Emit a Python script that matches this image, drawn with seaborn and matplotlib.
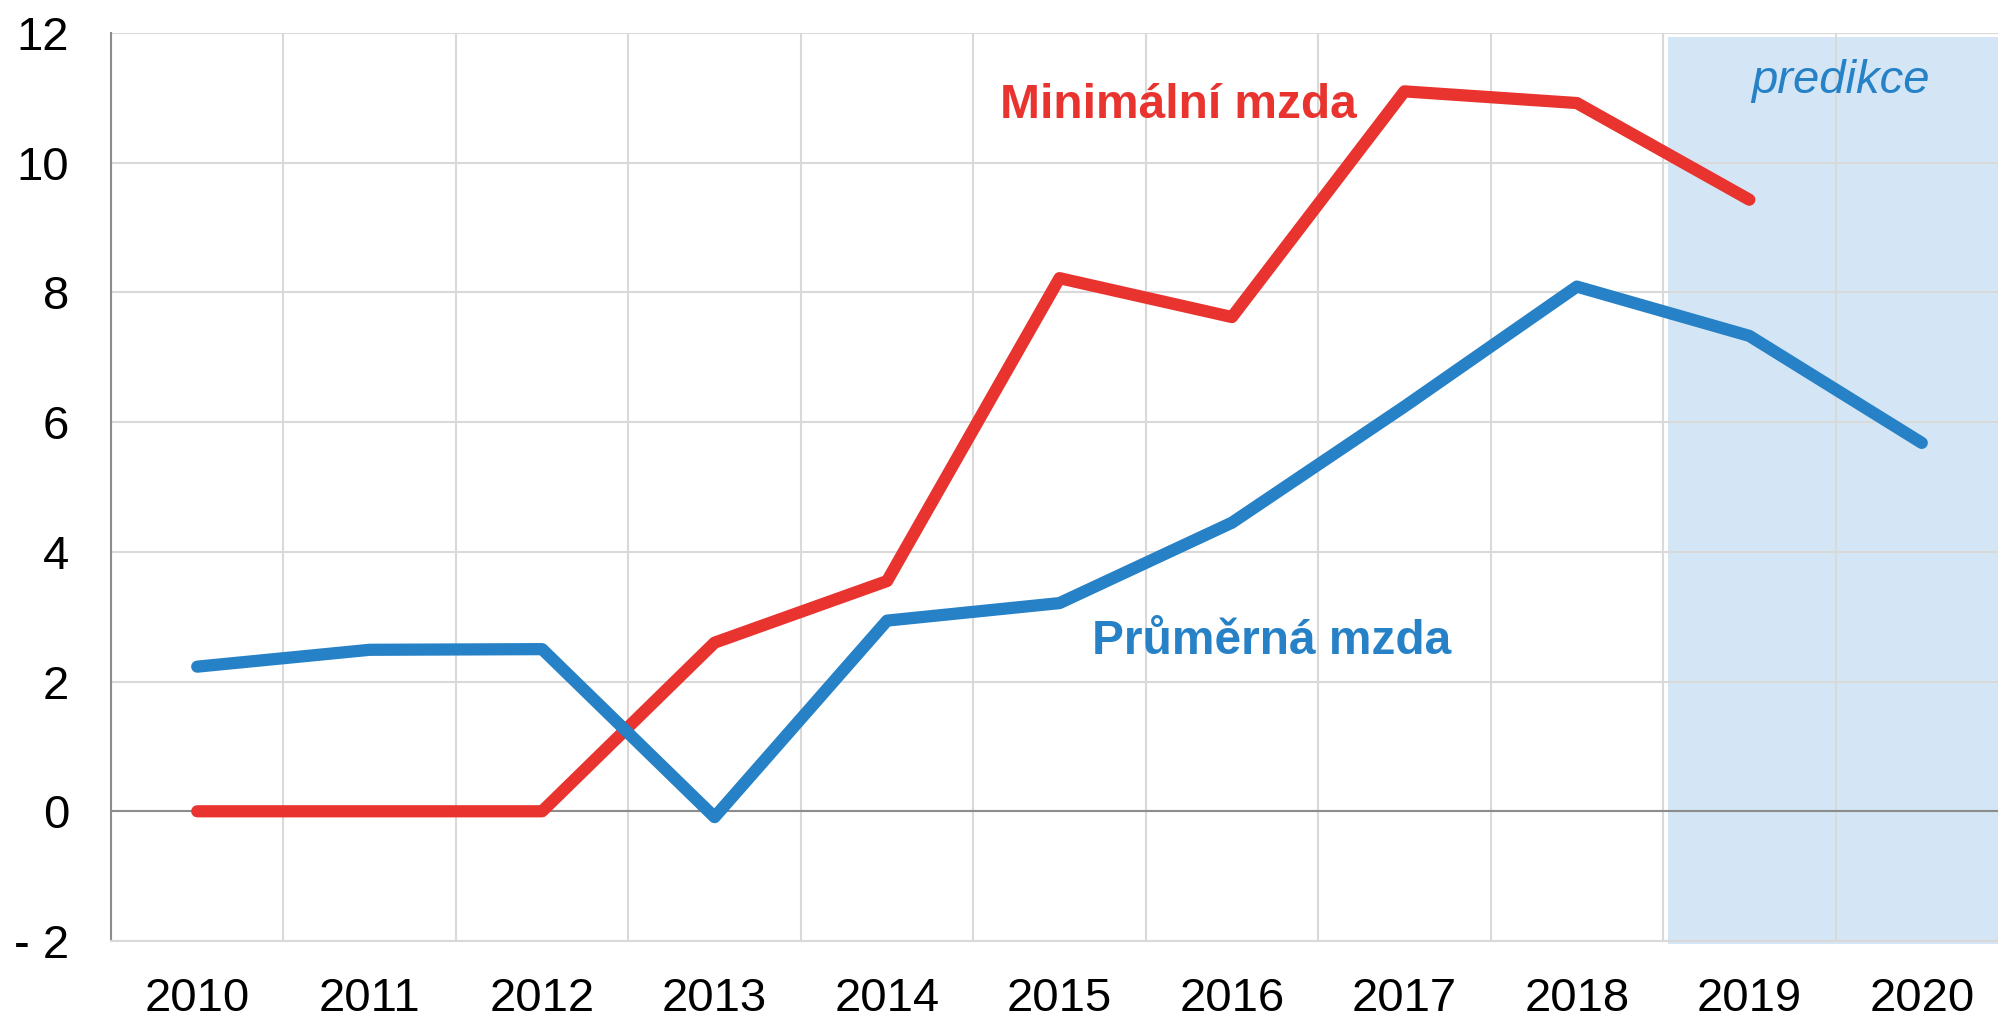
"""Growth of minimum vs. average wage, 2010-2020, with the forecast years shaded."""

import matplotlib

matplotlib.use("Agg")
import matplotlib.pyplot as plt
import numpy as np
import pandas as pd
import seaborn as sns
from matplotlib.patches import Rectangle
from matplotlib.ticker import FixedLocator

# --- data (year-on-year growth, %) ---
years = [2010, 2011, 2012, 2013, 2014, 2015, 2016, 2017, 2018, 2019, 2020]
avg_wage = [2.23, 2.49, 2.50, -0.09, 2.94, 3.21, 4.45, 6.24, 8.09, 7.33, 5.68]
min_wage_years = [2010, 2011, 2012, 2013, 2014, 2015, 2016, 2017, 2018, 2019]
min_wage = [0.0, 0.0, 0.0, 2.60, 3.55, 8.22, 7.62, 11.10, 10.92, 9.43]
y_ticks = [-2, 0, 2, 4, 6, 8, 10, 12]
y_tick_labels = ["- 2", "0", "2", "4", "6", "8", "10", "12"]

series_min = "Minimální mzda"
series_avg = "Průměrná mzda"
forecast_label = "predikce"
forecast_start = 2018.53

RED = "#E8332F"
BLUE = "#2681C6"
SHADE = "#D4E6F5"
GRID = "#D9D9D9"

df = pd.concat(
    [
        pd.DataFrame({"rok": min_wage_years, "růst": min_wage, "řada": series_min}),
        pd.DataFrame({"rok": years, "růst": avg_wage, "řada": series_avg}),
    ],
    ignore_index=True,
)

sns.set_theme(style="white")
plt.rcParams["font.family"] = ["Liberation Sans", "DejaVu Sans"]

fig = plt.figure(figsize=(19.99, 10.19), dpi=100)
ax = fig.add_axes([111 / 1999, 1 - 941 / 1019, 1897 / 1999, 908 / 1019])

# forecast shading, drawn under the grid
ax.add_patch(
    Rectangle(
        (forecast_start, -2.05),
        3.0,
        13.99,
        facecolor=SHADE,
        edgecolor="none",
        zorder=0.2,
        clip_on=False,
    )
)

sns.lineplot(
    data=df,
    x="rok",
    y="růst",
    hue="řada",
    palette={series_min: RED, series_avg: BLUE},
    linewidth=8.8,
    legend=False,
    sort=False,
    solid_capstyle="round",
    solid_joinstyle="round",
    ax=ax,
    zorder=3,
)

ax.axhline(0, color="#8C8C8C", linewidth=1.5, zorder=1)

ax.set_xlim(years[0] - 0.5, years[-1] + 0.5)
ax.set_ylim(y_ticks[0], y_ticks[-1])

ax.xaxis.set_minor_locator(FixedLocator(np.arange(years[0] - 0.5, years[-1] + 1.0, 1.0)))
ax.set_xticks(years, [str(y) for y in years])
ax.set_yticks(y_ticks, y_tick_labels)

ax.set_axisbelow(True)
ax.grid(False)
ax.grid(which="minor", axis="x", color=GRID, linewidth=1.5)
ax.grid(which="major", axis="y", color=GRID, linewidth=1.5)

ax.tick_params(axis="x", which="both", length=0, pad=26, labelsize=34, colors="black")
ax.tick_params(axis="y", which="both", length=0, pad=30, labelsize=34, colors="black")
ax.set_xlabel("")
ax.set_ylabel("")

for side in ("top", "right"):
    ax.spines[side].set_visible(False)
ax.spines["left"].set_color("#8C8C8C")
ax.spines["left"].set_linewidth(1.5)
ax.spines["bottom"].set_color(GRID)
ax.spines["bottom"].set_linewidth(1.5)

# series labels placed directly on the chart
ax.text(2015.69, 10.69, series_min, color=RED, fontsize=34.5, fontweight="bold",
        ha="center", va="baseline", zorder=4)
ax.text(2016.23, 2.43, series_avg, color=BLUE, fontsize=34.5, fontweight="bold",
        ha="center", va="baseline", zorder=4)
ax.text(2019.53, 11.08, forecast_label, color=BLUE, fontsize=34, fontstyle="italic",
        ha="center", va="baseline", zorder=4)

fig.savefig("out.png", dpi=100)
plt.close(fig)
